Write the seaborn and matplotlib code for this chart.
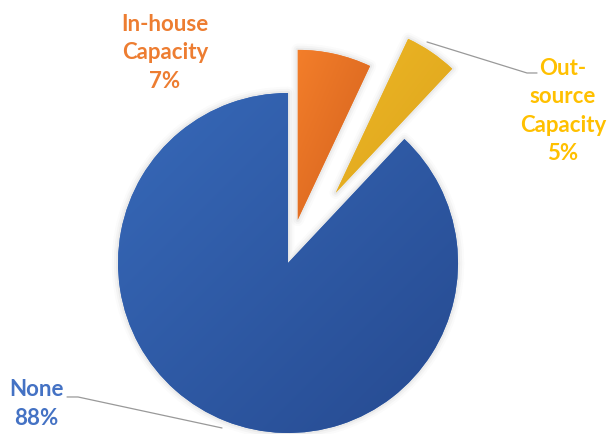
import numpy as np
import matplotlib
matplotlib.use("Agg")
import matplotlib.pyplot as plt
import matplotlib.colors as mcolors
from matplotlib.patches import Wedge
import seaborn as sns

# Share of capacity types
categories = ["In-house\nCapacity", "Out-\nsource\nCapacity", "None"]
shares = [7, 5, 88]
wedge_top = ["#F37E2A", "#EEB725", "#3769B9"]
wedge_bottom = ["#D2601D", "#DCA41D", "#264A90"]
label_colors = ["#ED7D31", "#FFC000", "#4472C4"]
explode = [0.26, 0.50, 0.0]

sns.set_theme(style="white")
plt.rcParams["font.family"] = ["Lato", "DejaVu Sans"]

fig = plt.figure(figsize=(6.08, 4.34), dpi=100)
ax = fig.add_axes([0, 0, 1, 1])
XL, YL = (-1.694, 1.882), (-1.006, 1.547)

wedges, _ = ax.pie(shares, explode=explode, startangle=90, counterclock=False,
                   colors=wedge_top, radius=1.0,
                   wedgeprops=dict(linewidth=0, zorder=3))

# soft grey halo behind the slices
for w in wedges:
    for lw, a in [(9, 0.025), (6, 0.04), (3, 0.06)]:
        halo = Wedge(w.center, w.r, w.theta1, w.theta2, facecolor="none",
                     edgecolor="#555555", linewidth=lw, alpha=a, zorder=2,
                     joinstyle="round")
        ax.add_patch(halo)

# diagonal gradient fill clipped to each wedge (light top-left, dark bottom-right)
for w, c0, c1 in zip(wedges, wedge_top, wedge_bottom):
    cmap = mcolors.LinearSegmentedColormap.from_list("g", [c0, c1])
    bb = w.get_path().get_extents(w.get_transform() - ax.transData)
    n = 200
    yy, xx = np.mgrid[0:1:n * 1j, 0:1:n * 1j]
    grad = (xx + yy) / 2
    im = ax.imshow(grad, cmap=cmap, extent=[bb.x0, bb.x1, bb.y0, bb.y1],
                   origin="upper", zorder=4, interpolation="bilinear")
    im.set_clip_path(w)

ax.set_xlim(*XL)
ax.set_ylim(*YL)
ax.set_aspect("equal")
ax.axis("off")

def px(x, y):
    return ((x - 288) / 170.0, (263 - y) / 170.0)

fs, ls = 16, 1.42
ax.text(*px(165, 53), categories[0] + f"\n{shares[0]}%", color=label_colors[0],
        fontsize=fs, fontweight="bold", ha="center", va="center", linespacing=ls)
ax.text(*px(563, 111), categories[1] + f"\n{shares[1]}%", color=label_colors[1],
        fontsize=fs, fontweight="bold", ha="center", va="center", linespacing=ls)
ax.text(*px(36, 404), categories[2] + f"\n{shares[2]}%", color=label_colors[2],
        fontsize=fs, fontweight="bold", ha="center", va="center", linespacing=ls)

# leader lines
l1 = [px(427, 42), px(527, 73), px(537, 73)]
ax.plot([p[0] for p in l1], [p[1] for p in l1], color="#999999", lw=0.9, zorder=5)
l2 = [px(67, 397), px(78, 397), px(222, 428)]
ax.plot([p[0] for p in l2], [p[1] for p in l2], color="#999999", lw=0.9, zorder=5)

fig.savefig("out.png", dpi=100, facecolor="white")
